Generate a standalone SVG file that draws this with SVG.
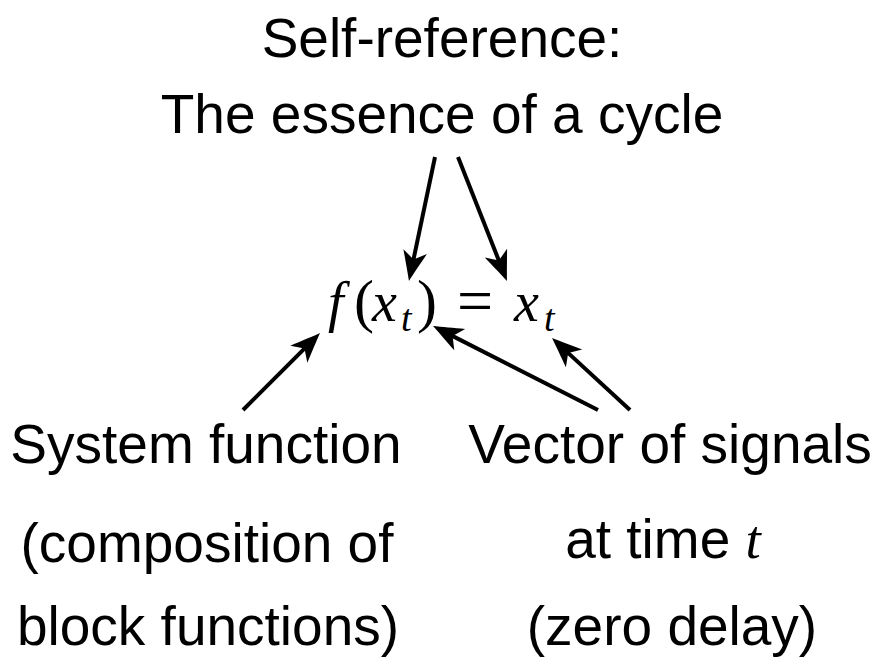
<svg xmlns="http://www.w3.org/2000/svg" width="878" height="658" viewBox="0 0 878 658">
<style>
.lbl{font-family:"Liberation Sans",Arial,sans-serif;font-size:55px;fill:#000;text-anchor:middle}
.m{font-family:"Liberation Serif","Times New Roman",serif;font-style:italic;fill:#000}
.mr{font-family:"Liberation Serif","Times New Roman",serif;fill:#000}
.arr{stroke:#000;stroke-width:4;fill:none;marker-end:url(#ah)}
</style>
<defs>
<marker id="ah" markerUnits="userSpaceOnUse" markerWidth="40" markerHeight="30" refX="10" refY="15" orient="auto" overflow="visible">
<path d="M30,15 C22,12 10,7 0,3 L8,15 L0,27 C10,23 22,18 30,15 Z" fill="#000"/>
</marker>
</defs>
<rect width="878" height="658" fill="#fff"/>
<g id="title">
<text class="lbl" x="442" y="57">Self-reference:</text>
<text class="lbl" x="442" y="133">The essence of a cycle</text>
</g>
<g id="equation">
<text class="m" x="328" y="321" font-size="56">f</text>
<text class="mr" x="354" y="321" font-size="60">(</text>
<text class="m" x="372" y="321" font-size="56">x</text>
<text class="m" x="401" y="331" font-size="38">t</text>
<text class="mr" x="417" y="321" font-size="60">)</text>
<text class="mr" x="457" y="322" font-size="64">=</text>
<text class="m" x="514" y="321" font-size="56">x</text>
<text class="m" x="544" y="331" font-size="38">t</text>
</g>
<g id="system">
<text class="lbl" x="206" y="463">System function</text>
<text class="lbl" x="207" y="562">(composition of</text>
<text class="lbl" x="208" y="645">block functions)</text>
</g>
<g id="vector">
<text class="lbl" x="670" y="463">Vector of signals</text>
<text class="lbl" x="663" y="558">at time <tspan class="m" font-size="55">t</tspan></text>
<text class="lbl" x="672" y="645">(zero delay)</text>
</g>
<g id="connectors">
<line class="arr" x1="435" y1="157" x2="413.1" y2="261.4"/>
<line class="arr" x1="458" y1="157" x2="499.6" y2="262.4"/>
<line class="arr" x1="243" y1="410" x2="305.9" y2="347.1"/>
<line class="arr" x1="598" y1="410" x2="450.8" y2="335.1"/>
<line class="arr" x1="630" y1="410" x2="566.7" y2="351.6"/>
</g>
</svg>
